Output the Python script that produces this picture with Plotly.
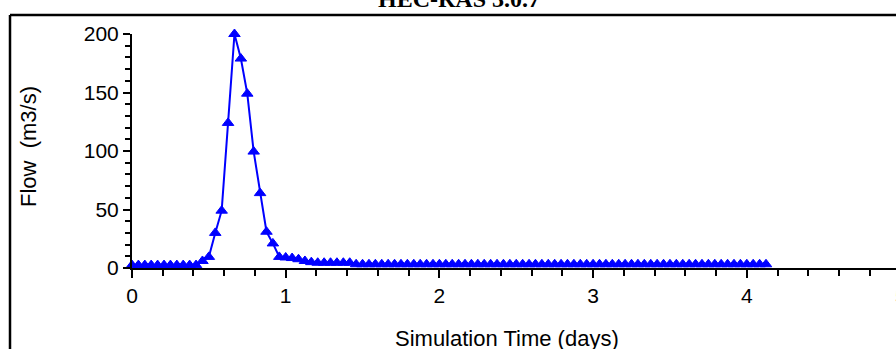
import plotly.graph_objects as go

# ---- data (hourly flow hydrograph) ----
hours = [0, 1, 2, 3, 4, 5, 6, 7, 8, 9,
         10, 11, 12, 13, 14, 15, 16, 17, 18, 19,
         20, 21, 22, 23, 24, 25, 26, 27, 28, 29,
         30, 31, 32, 33, 34, 35, 36, 37, 38, 39,
         40, 41, 42, 43, 44, 45, 46, 47, 48, 49,
         50, 51, 52, 53, 54, 55, 56, 57, 58, 59,
         60, 61, 62, 63, 64, 65, 66, 67, 68, 69,
         70, 71, 72, 73, 74, 75, 76, 77, 78, 79,
         80, 81, 82, 83, 84, 85, 86, 87, 88, 89,
         90, 91, 92, 93, 94, 95, 96, 97, 98, 99]
flow = [2.5, 2.5, 2.5, 2.5, 2.5, 2.5, 2.5, 2.5, 2.5, 2.5,
        2.5, 6.0, 9.5, 30.0, 49.0, 124.0, 200.0, 179.0, 149.0, 99.5,
        64.0, 31.0, 21.0, 9.5, 9.0, 8.5, 7.5, 6.0, 5.0, 4.5,
        4.5, 4.5, 4.5, 4.5, 4.5, 3.2, 3.2, 3.2, 3.2, 3.2,
        3.2, 3.2, 3.2, 3.2, 3.2, 3.2, 3.2, 3.2, 3.2, 3.2,
        3.2, 3.2, 3.2, 3.2, 3.2, 3.2, 3.2, 3.2, 3.2, 3.2,
        3.2, 3.2, 3.2, 3.2, 3.2, 3.2, 3.2, 3.2, 3.2, 3.2,
        3.2, 3.2, 3.2, 3.2, 3.2, 3.2, 3.2, 3.2, 3.2, 3.2,
        3.2, 3.2, 3.2, 3.2, 3.2, 3.2, 3.2, 3.2, 3.2, 3.2,
        3.2, 3.2, 3.2, 3.2, 3.2, 3.2, 3.2, 3.2, 3.2, 3.2]
x_ticks = [0, 1, 2, 3, 4, 5]
y_ticks = [0, 50, 100, 150, 200]
title_text = "HEC-RAS 3.0.7"
x_title = "Simulation Time (days)"
y_title = "Flow\u00a0 (m3/s)"

days = [h / 24.0 for h in hours]

W, H = 896, 349
ML, MT, MB, MR = 132, 34, 81, 0
PW = W - ML - MR
PH = H - MT - MB
PX_PER_DAY = 153.7
x_max = PW / PX_PER_DAY


def px2paper_x(px):
    return (px - ML) / PW


def px2paper_y(py):
    return (H - MB - py) / PH


fig = go.Figure()
fig.add_trace(go.Scatter(
    x=days, y=flow, mode="lines+markers",
    line=dict(color="#0000FF", width=2),
    marker=dict(symbol="triangle-up", size=10, color="#0000FF",
                line=dict(color="#0000FF", width=1)),
    cliponaxis=False, showlegend=False,
))

tick_font = dict(family="Liberation Sans, Arial, sans-serif", size=21, color="black")

fig.update_layout(
    width=W, height=H,
    margin=dict(l=ML, r=MR, t=MT, b=MB, pad=0),
    paper_bgcolor="white", plot_bgcolor="white",
    xaxis=dict(range=[0, x_max], tickvals=x_ticks, ticktext=[str(v) for v in x_ticks],
               showline=True, linecolor="black", linewidth=2,
               ticks="outside", ticklen=8, tickwidth=2, tickcolor="black",
               showgrid=False, zeroline=False, tickfont=tick_font,
               minor=dict(dtick=0.2, tick0=0, ticks="outside", ticklen=6,
                          tickwidth=2, tickcolor="black", showgrid=False)),
    yaxis=dict(range=[0, 200], tickvals=y_ticks, ticktext=[str(v) for v in y_ticks],
               showline=True, linecolor="black", linewidth=2,
               ticks="outside", ticklen=7, tickwidth=2, tickcolor="black",
               showgrid=False, zeroline=False, tickfont=tick_font,
               minor=dict(dtick=10, tick0=0, ticks="outside", ticklen=5,
                          tickwidth=2, tickcolor="black", showgrid=False)),
)

# outer frame (partially visible: left and top edges)
fx0 = px2paper_x(10)
fy_top = px2paper_y(15)
fig.add_shape(type="line", xref="paper", yref="paper",
              x0=fx0, x1=fx0, y0=fy_top, y1=px2paper_y(H + 10),
              line=dict(color="black", width=2.5))
fig.add_shape(type="line", xref="paper", yref="paper",
              x0=fx0, x1=px2paper_x(W + 10), y0=fy_top, y1=fy_top,
              line=dict(color="black", width=2.5))

# title (cut at top)
fig.add_annotation(text="<b>" + title_text + "</b>", xref="paper", yref="paper",
                   x=px2paper_x(459), y=px2paper_y(-1.5), xanchor="center", yanchor="middle",
                   showarrow=False,
                   font=dict(family="Liberation Serif, Times New Roman, serif", size=24, color="black"))
# axis titles
fig.add_annotation(text=y_title, xref="paper", yref="paper",
                   x=px2paper_x(28), y=px2paper_y(147), xanchor="center", yanchor="middle",
                   textangle=-90, showarrow=False,
                   font=dict(family="Liberation Sans, Arial, sans-serif", size=22, color="black"))
fig.add_annotation(text=x_title, xref="paper", yref="paper",
                   x=px2paper_x(506.5), y=px2paper_y(338), xanchor="center", yanchor="middle",
                   showarrow=False,
                   font=dict(family="Liberation Sans, Arial, sans-serif", size=22, color="black"))
# partially visible last tick label beyond right edge
fig.add_annotation(text=str(x_ticks[-1]), xref="paper", yref="paper",
                   x=px2paper_x(ML + x_ticks[-1] * PX_PER_DAY), y=px2paper_y(295),
                   xanchor="center", yanchor="middle", showarrow=False, font=tick_font)

fig.write_html("out.html")
